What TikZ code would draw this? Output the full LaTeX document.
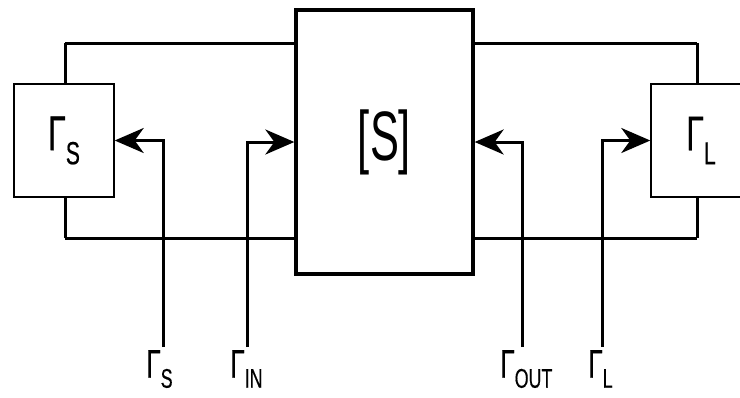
\documentclass[tikz,border=0pt]{standalone}
\usepackage{fontspec}
\newfontfamily\cond[FakeStretch=0.66, FakeBold=0.4]{Liberation Sans}
\newfontfamily\condthin[FakeStretch=0.62]{Liberation Sans}
\usetikzlibrary{arrows.meta}
\newcommand\gsub[4]{{\cond\fontsize{#1}{#1}\selectfont Γ\raisebox{-#3}{\fontsize{#2}{#2}\selectfont #4}}}
\tikzset{
  wire/.style={line width=3pt, draw=black},
  sbox/.style={draw=black, line width=1.4pt, fill=white, minimum width=100pt, minimum height=113pt, inner sep=0pt},
  bigbox/.style={draw=black, line width=3.3pt, fill=white, minimum width=177pt, minimum height=264pt, inner sep=0pt},
  arr/.style={wire, -{Stealth[length=29pt, width=25pt, inset=9pt]}},
  lbl/.style={anchor=north west, inner sep=0pt}
}
\begin{document}
\begin{tikzpicture}[x=1pt, y=-1pt]
\useasboundingbox (0,0) rectangle (740,397);
\clip (0,0) rectangle (740,397);
% wires behind boxes
\coordinate (tl) at (65,43);
\coordinate (bl) at (65,238);
\coordinate (tr) at (697,43);
\coordinate (br) at (697,238);
\draw[wire] (tl) -- (tr) (bl) -- (br);
\draw[wire] (tl) -- (bl) (tr) -- (br);
% boxes
\node[sbox] (GS) at (64,140.5) {\gsub{49pt}{32pt}{14pt}{S}};
\node[bigbox] (S) at (384.5,142) {{\condthin\fontsize{70}{70}\selectfont [S]}};
\node[sbox] (GL) at (701,140.5) {\gsub{49pt}{32pt}{14pt}{L}};
% bottom ends of the arrows
\coordinate (a1) at (163,347);
\coordinate (a2) at (247,347);
\coordinate (a3) at (522,347);
\coordinate (a4) at (602,347);
\draw[arr] (a1) |- (GS.east);
\draw[arr] (a2) |- (S.west);
\draw[arr] (a3) |- (S.east);
\draw[arr] (a4) |- (GL.west);
% labels
\node[lbl] (l1) at (146,350) {\gsub{40pt}{27pt}{10pt}{S}};
\node[lbl] (l2) at (230,350) {\gsub{40pt}{27pt}{10pt}{IN}};
\node[lbl] (l3) at (500,350) {\gsub{40pt}{27pt}{10pt}{OUT}};
\node[lbl] (l4) at (588,350) {\gsub{40pt}{27pt}{10pt}{L}};
\end{tikzpicture}
\end{document}
